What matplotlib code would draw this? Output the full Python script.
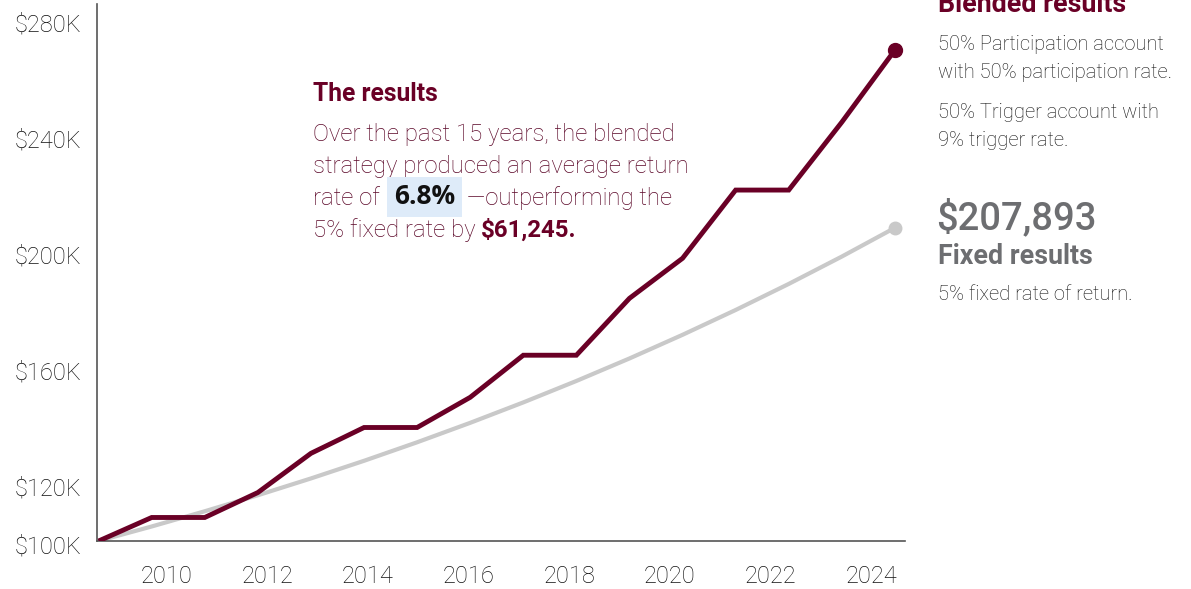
import matplotlib
matplotlib.use("Agg")
import matplotlib.pyplot as plt
import matplotlib.transforms as mtransforms

# ---------------- data ----------------
years = [2009, 2010, 2011, 2012, 2013, 2014, 2015, 2016,
         2017, 2018, 2019, 2020, 2021, 2022, 2023, 2024]
blended = [100000, 108100, 108100, 116700, 130200, 139100, 139100, 149500,
           164000, 164000, 183600, 197400, 220900, 220900, 244300, 269138]
fixed = [100000, 105000, 110250, 115763, 121551, 127628, 134010, 140710,
         147746, 155133, 162889, 171034, 179586, 188565, 197993, 207893]
y_ticks = [100000, 120000, 160000, 200000, 240000, 280000]
y_tick_labels = ["$100K", "$120K", "$160K", "$200K", "$240K", "$280K"]
x_tick_labels = ["2010", "2012", "2014", "2016", "2018", "2020", "2022", "2024"]

MAROON = "#6a0026"
MAROON_TXT = "#5c0829"
GRAY_LINE = "#c9c9c9"
GRAY_TXT = "#6d6e71"
DARK_TXT = "#111111"

plt.rcParams['font.family'] = ['Roboto', 'DejaVu Sans']

W, H = 1191, 589
fig = plt.figure(figsize=(W / 100, H / 100), dpi=100)
ax = fig.add_axes([97 / W, (H - 541) / H, (905 - 97) / W, (541 - 4) / H])

ax.plot(years, fixed, color=GRAY_LINE, lw=3.0, solid_capstyle='butt', zorder=2)
ax.plot(years[-1:], fixed[-1:], 'o', color=GRAY_LINE, ms=9, zorder=3)
ax.plot(years, blended, color=MAROON, lw=3.5, solid_joinstyle='miter',
        solid_capstyle='butt', zorder=4)
ax.plot(years[-1:], blended[-1:], 'o', color=MAROON, ms=10, zorder=5)

ax.set_xlim(2008.97, 2024.19)
ax.set_ylim(100000, 285000)

for s in ['top', 'right']:
    ax.spines[s].set_visible(False)
for s in ['left', 'bottom']:
    ax.spines[s].set_color('#555555')
    ax.spines[s].set_linewidth(1.2)

# tick positions (layout): label years sit at offset positions on the axis
tick_pos = [years[0] + 1.28 + i * 1.896 for i in range(len(x_tick_labels))]
ax.set_xticks(tick_pos)
ax.set_xticklabels(x_tick_labels)
ax.set_yticks(y_ticks)
ax.set_yticklabels(y_tick_labels)
ax.tick_params(axis='both', length=0, colors='#111111')
ax.tick_params(axis='x', pad=17, labelsize=17)
ax.tick_params(axis='y', pad=11, labelsize=17)
for lab in ax.get_xticklabels():
    lab.set_fontweight('light')
    lab.set_color('#111111')
off = mtransforms.ScaledTranslation(0, -4 / 100, fig.dpi_scale_trans)
for lab in ax.get_yticklabels():
    lab.set_fontweight('light')
    lab.set_color('#111111')
    lab.set_transform(lab.get_transform() + off)


def fx(px):
    return px / W


def fy(py):
    return 1 - py / H


# ---------------- annotation block ----------------
fig.text(fx(313), fy(94), "The results", fontsize=17.7, fontweight='bold',
         color=MAROON, va='center', ha='left')
body_kw = dict(fontsize=17.3, fontweight='light', color=MAROON_TXT, va='center', ha='left')
fig.text(fx(313), fy(134), "Over the past 15 years, the blended", **body_kw)
fig.text(fx(313), fy(166), "strategy produced an average return", **body_kw)

fig.canvas.draw()
renderer = fig.canvas.get_renderer()

fig.text(fx(313), fy(198), "rate of", **body_kw)
fig.text(fx(394), fy(197), "6.8%", fontsize=19, fontweight='bold',
         family=['Open Sans', 'DejaVu Sans'], color='#111111', va='center', ha='left',
         bbox=dict(boxstyle='square,pad=0.25', facecolor='#deebf9', edgecolor='none'))
fig.text(fx(467), fy(198), "\u2014outperforming the", **body_kw)

t4 = fig.text(fx(313), fy(230), "5% fixed rate by ", **body_kw)
bb4 = t4.get_window_extent(renderer)
fig.text(bb4.x1 / W, fy(230), "$61,245.", fontsize=17.3, fontweight='bold',
         color=MAROON, va='center', ha='left')

# ---------------- right panel ----------------
fig.text(fx(938), fy(5), "Blended results", fontsize=19.3, fontweight='bold',
         color=MAROON, va='center', ha='left')
side_kw = dict(fontsize=14.5, fontweight='light', color=DARK_TXT, va='center', ha='left')
fig.text(fx(938), fy(45), "50% Participation account", **side_kw)
fig.text(fx(938), fy(73), "with 50% participation rate.", **side_kw)
fig.text(fx(938), fy(113), "50% Trigger account with", **side_kw)
fig.text(fx(938), fy(140), "9% trigger rate.", **side_kw)

fig.text(fx(936), fy(218), "$207,893", fontsize=27.5, fontweight='medium',
         color=GRAY_TXT, va='center', ha='left')
fig.text(fx(938), fy(256), "Fixed results", fontsize=19.3, fontweight='bold',
         color=GRAY_TXT, va='center', ha='left')
fig.text(fx(938), fy(295), "5% fixed rate of return.", **side_kw)

fig.savefig("out.png", dpi=100)
